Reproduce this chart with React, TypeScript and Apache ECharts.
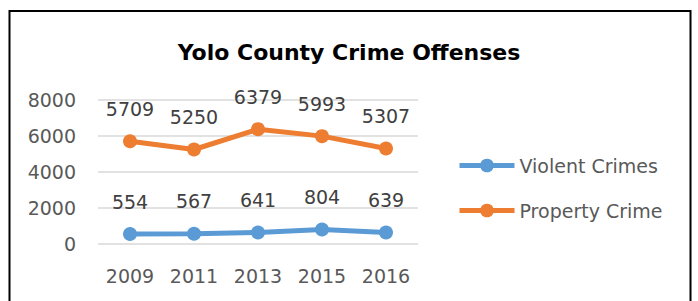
import React, { useEffect, useRef } from "react";
import * as echarts from "echarts";

const categories = ["2009", "2011", "2013", "2015", "2016"];
const violentCrimes = [554, 567, 641, 804, 639];
const propertyCrime = [5709, 5250, 6379, 5993, 5307];
const seriesNames = ["Violent Crimes", "Property Crime"];
const titleText = "Yolo County Crime Offenses";

const FONT = "DejaVu Sans";

export default function App() {
  const ref = useRef<HTMLDivElement>(null);
  useEffect(() => {
    if (!ref.current) return;
    const chart = echarts.init(ref.current, null, { renderer: "svg" });
    const labelStyle = {
      show: true,
      position: "top",
      distance: 16,
      fontFamily: FONT,
      fontSize: 19,
      color: "#404040",
    };
    chart.setOption({
      animation: false,
      backgroundColor: "#ffffff",
      title: {
        text: titleText,
        left: "center",
        top: 34,
        textStyle: {
          fontFamily: FONT,
          fontSize: 22,
          fontWeight: "bold",
          color: "#000000",
          lineHeight: 26,
        },
      },
      graphic: [
        {
          type: "rect",
          shape: { x: 9.5, y: 11, width: 681, height: 330 },
          style: { fill: "none", stroke: "#000000", lineWidth: 2 },
          silent: true,
          z: 100,
        },
      ],
      legend: {
        orient: "vertical",
        left: 452,
        top: 151,
        itemWidth: 55,
        itemHeight: 17,
        itemGap: 26,
        lineStyle: { width: 5 },
        textStyle: { fontFamily: FONT, fontSize: 19, color: "#595959", lineHeight: 19 },
        data: seriesNames,
      },
      grid: { left: 98, right: 280, top: 100, bottom: 57 },
      xAxis: {
        type: "category",
        data: categories,
        boundaryGap: true,
        axisLine: { show: false },
        axisTick: { show: false },
        axisLabel: { fontFamily: FONT, fontSize: 19, color: "#595959", margin: 22 },
      },
      yAxis: {
        type: "value",
        min: 0,
        max: 8000,
        interval: 2000,
        axisLine: { show: false },
        axisTick: { show: false },
        axisLabel: {
          fontFamily: FONT,
          fontSize: 19,
          color: "#595959",
          margin: 22,
          formatter: (v: number) => String(v),
        },
        splitLine: { lineStyle: { color: "#d9d9d9", width: 1.5 } },
      },
      series: [
        {
          name: seriesNames[0],
          type: "line",
          data: violentCrimes,
          symbol: "circle",
          symbolSize: 14,
          color: "#5B9BD5",
          lineStyle: { width: 5, color: "#5B9BD5" },
          itemStyle: { color: "#5B9BD5" },
          label: labelStyle,
        },
        {
          name: seriesNames[1],
          type: "line",
          data: propertyCrime,
          symbol: "circle",
          symbolSize: 14,
          color: "#ED7D31",
          lineStyle: { width: 5, color: "#ED7D31" },
          itemStyle: { color: "#ED7D31" },
          label: labelStyle,
        },
      ],
    });
    return () => chart.dispose();
  }, []);
  return (
    <div
      ref={ref}
      style={{ position: "fixed", left: 0, top: 0, width: 698, height: 301 }}
    />
  );
}
